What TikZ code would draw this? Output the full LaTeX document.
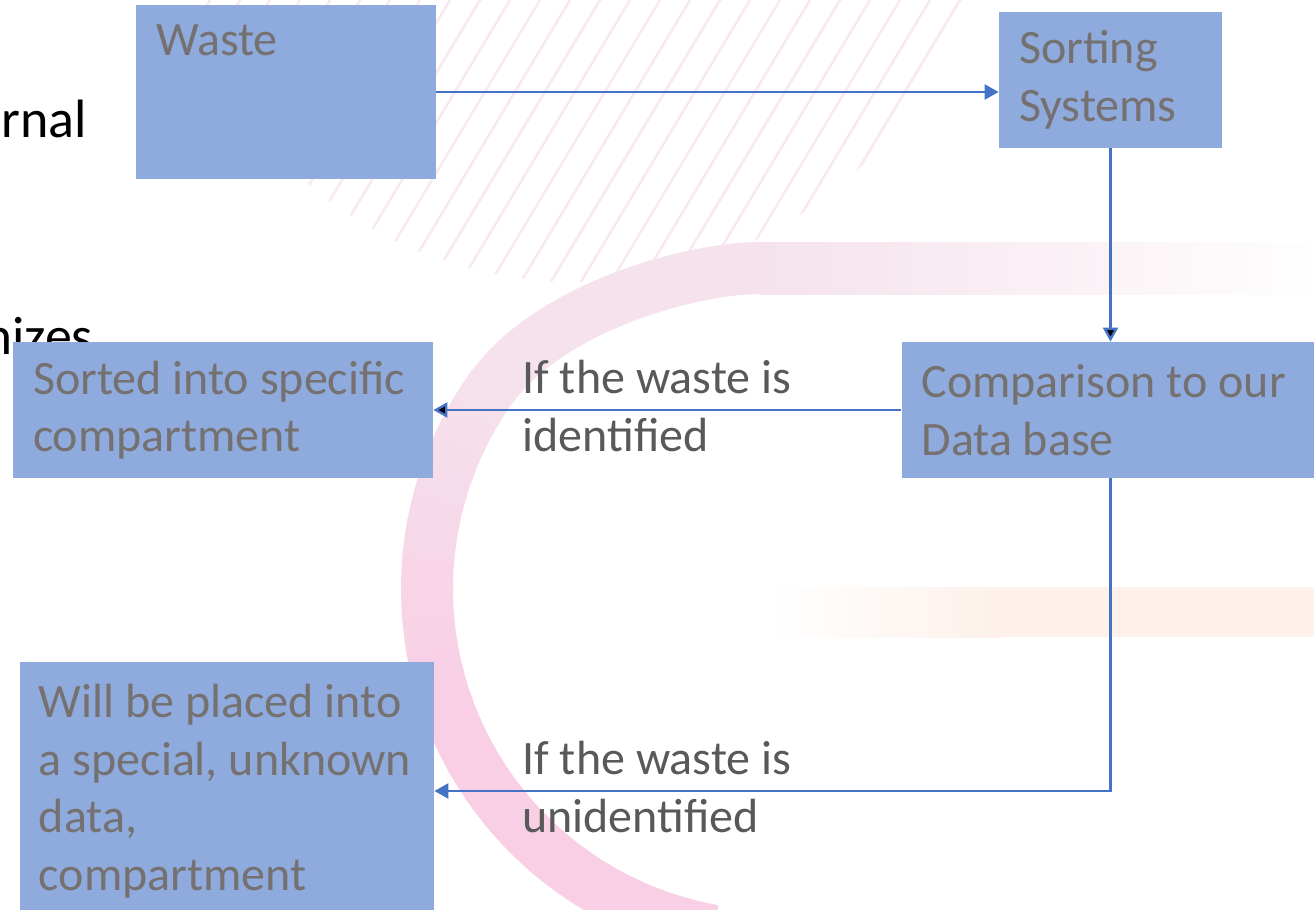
\documentclass[tikz,border=0pt]{standalone}
\usepackage{fontspec}
\setmainfont{Carlito}
\usetikzlibrary{arrows.meta}

\definecolor{boxblue}{HTML}{8FAADC}
\definecolor{boxtext}{HTML}{767171}
\definecolor{flowblue}{HTML}{4472C4}
\definecolor{labelgray}{HTML}{595959}
\definecolor{ringpink}{HTML}{F9CFE5}
\definecolor{ringpale}{HTML}{F5E2EC}
\definecolor{hatchpink}{HTML}{F9EAF1}
\definecolor{peach}{HTML}{FDF1EA}

\begin{document}
\begin{tikzpicture}[x=0.5pt,y=-0.5pt,>={Triangle[length=7pt,width=7.5pt]},
	flow/.style={->,draw=flowblue,line width=1.2pt},
	main box/.style={rectangle,fill=boxblue,text=boxtext,align=flush left,inner xsep=10pt,
	  font=\fontsize{24pt}{28.75pt}\selectfont},
	cond/.style={text=labelgray,align=flush left,inner sep=0pt,font=\fontsize{24pt}{28.75pt}\selectfont},
	slide text/.style={inner sep=0pt,font=\fontsize{27pt}{32pt}\selectfont}]

	\useasboundingbox (0,0) rectangle (1314,910);
	\clip (0,0) rectangle (1314,910);
	\fill[white] (0,0) rectangle (1314,910);

	% hatched patch at the top
	\begin{scope}
	  \clip (575,-130) circle [radius=412];
	  \foreach \x in {150,180,...,1020}
	    \draw[hatchpink,line width=1.3pt] (\x-180,300) -- (\x+60,-100);
	\end{scope}

	% pink ring, darker at the bottom
	\foreach \a in {100,105,...,210}{
	  \pgfmathtruncatemacro\mix{max(0,min(100,100-(\a-160)*100/55))}
	  \pgfmathtruncatemacro\b{\a+6}
	  \draw[ringpink!\mix!ringpale,line width=26pt] (774,589) ++(\a:347)
	    arc[start angle=\a,end angle=\b,radius=347];
	}
	\draw[ringpale,line width=26pt] (490,390) .. controls (547,308) and (690,268) .. (761,268);
	\shade[left color=ringpale,right color=white] (760,242) rectangle (1340,294);
	\shade[left color=white,right color=peach] (770,587) rectangle (1000,637);
	\fill[peach] (990,587) rectangle (1314,637);

	% words of the slide behind
	\node[slide text,anchor=base west] (bgword1) at (1,137) {rnal};
	\node[slide text,anchor=base west] (bgword2) at (-31,354) {mizes};

	% boxes
	\node[main box,text width=130pt,inner ysep=0pt,text height=25pt,text depth=62pt] (waste) at (286,92) {Waste};
	\node[main box,text width=91.5pt,minimum height=68pt] (sorting) at (1110.5,80) {Sorting\\Systems};
	\node[main box,text width=189pt,minimum height=68pt] (compare) at (1110.5,410) {Comparison to our\\Data base};
	\node[main box,text width=190pt,minimum height=68pt] (sorted) at (223,410) {Sorted into specific\\compartment};
	\node[main box,text width=188pt,inner xsep=9.5pt,minimum height=129pt] (unknown) at (227,791) {Will be placed into\\a special, unknown\\data,\\compartment};

	% conditions
	\node[cond,anchor=west] (hit) at (522,406) {If the waste is\\identified};
	\node[cond,anchor=west] (miss) at (522,787) {If the waste is\\unidentified};

	% flow
	\draw[flow] (waste.east) -- (waste.east -| sorting.west);
	\path[flow]
	  (sorting) edge (compare)
	  (compare) edge (sorted);
	\draw[flow] (compare) |- (unknown);

\end{tikzpicture}
\end{document}
